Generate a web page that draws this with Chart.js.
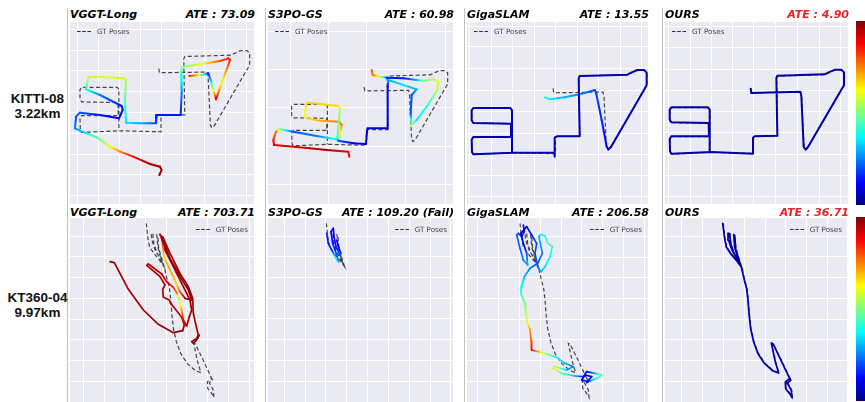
<!DOCTYPE html>
<html><head><meta charset="utf-8">
<script src="https://cdn.jsdelivr.net/npm/chart.js@4.4.1/dist/chart.umd.min.js"></script>
<style>
html,body{margin:0;padding:0;background:#fff}
#fig{position:relative;width:865px;height:402px;overflow:hidden;background:#fff}
.sep{position:absolute;top:8px;bottom:0;width:1px;background:#c2c2c2}
.ttl{position:absolute;height:13px;display:flex;justify-content:space-between;font:italic bold 11px "DejaVu Sans";line-height:13px;color:#000;white-space:nowrap}
.ttl .red{color:#e2262a}
canvas{position:absolute}
.leg{position:absolute;font:7.2px "DejaVu Sans";color:#444;line-height:9px;white-space:nowrap;display:flex;align-items:center}
.leg svg{margin-right:6px}
.rowlab{position:absolute;left:0;width:75px;text-align:center;font:bold 13.5px "Liberation Sans";line-height:15px;color:#111}
.cbar{position:absolute;left:856px;width:10px;height:184px;background:linear-gradient(to top,#000080 0%,#0000ff 12.5%,#00ffff 37.5%,#ffff00 62.5%,#ff0000 87.5%,#800000 100%)}
</style></head>
<body><div id="fig"></div>
<script>
// ---------------- DATA ----------------
const methods = ['VGGT-Long', 'S3PO-GS', 'GigaSLAM', 'OURS'];
const sequences = [['KITTI-08', '3.22km'], ['KT360-04', '9.97km']];
const ateKitti = ['73.09', '60.98', '13.55', '4.90'];
const ateKT360 = ['703.71', '109.20 (Fail)', '206.58', '36.71'];
const legendLabel = 'GT Poses';

// Ground truth, KITTI-08 (x, y)
const gtKitti = [[288,265],[290,278],[437,276],[440,290],[447,440],[452,448],[460,440],[560,268],[568,255],[568,218],[560,210],[540,210],[522,218],[510,224],[368,228],[365,235],[368,408],[300,408],[295,412],[295,460],[170,457],[50,462],[46,455],[45,418],[50,410],[163,410],[162,370],[50,368],[45,360],[45,330],[50,323],[160,323],[165,330],[165,457]];

// Estimated trajectories, KITTI-08 (x, y, normalised error)
const vggtKitti = [[568,228,.85],[590,226,.7],[610,224,.4],[625,220,.15],[632,240,.3],[640,270,.6],[648,298,.9],[665,250,.6],[690,180,.85],[685,175,.85],[660,183,.8],[600,193,.6],[548,200,.5],[543,215,.45],[545,280,.25],[542,345,.15],[470,345,.15],[468,370,.2],[420,370,.3],[378,368,.35],[375,300,.45],[378,240,.55],[372,235,.6],[300,230,.6],[265,232,.58],[258,268,.4],[300,285,.25],[365,318,.15],[368,330,.15],[357,355,.1],[300,345,.15],[240,338,.2],[228,350,.2],[225,385,.25],[240,392,.3],[290,412,.45],[330,440,.62],[360,455,.75],[400,470,.88],[450,492,.95],[480,500,.97],[485,510,.97],[478,525,.97]];
const s3poKitti = [[335,210,.8],[338,225,.75],[360,230,.6],[382,233,.15],[430,235,.15],[470,240,.3],[490,242,.5],[520,238,.55],[535,245,.6],[532,270,.55],[500,320,.4],[470,360,.35],[455,375,.55],[452,340,.2],[455,285,.2],[470,268,.3],[430,255,.35],[385,240,.3],[383,260,.1],[383,385,.08],[322,385,.08],[318,432,.08],[280,430,.12],[235,422,.2],[230,415,.35],[240,410,.55],[245,375,.75],[238,365,.75],[180,362,.7],[140,355,.65],[135,345,.6],[138,312,.65],[145,308,.68],[235,318,.65],[240,325,.55],[237,360,.5],[232,412,.45],[228,418,.4],[170,408,.25],[100,395,.2],[60,388,.5],[48,395,.75],[40,420,.85],[42,435,.9],[150,445,.92],[200,450,.97],[265,455,.88],[268,470,.88]];
const gigaKitti = [[270,292,.38],[285,298,.36],[330,292,.3],[380,281,.25],[420,270,.2],[424,282,.18],[440,360,.16],[455,440,.12],[460,448,.08],[468,441,.05],[567,270,.05],[575,255,.05],[575,218,.05],[567,210,.05],[547,210,.05],[529,218,.05],[517,224,.05],[374,228,.05],[371,235,.05],[374,409,.05],[306,409,.05],[299,413,.05],[299,458,.05],[175,458,.05],[55,463,.05],[51,456,.05],[50,419,.05],[55,411,.05],[168,411,.05],[168,371,.05],[55,369,.05],[50,361,.05],[50,331,.05],[55,324,.05],[166,324,.05],[171,331,.05],[171,458,.05],[298,458,.05],[299,470,.05]];
const oursKitti = [[287,266,.04],[289,279,.04],[436,275,.04],[439,288,.04],[446,441,.04],[452,449,.04],[459,441,.04],[559,269,.04],[567,256,.04],[567,217,.04],[559,209,.04],[540,209,.04],[521,217,.04],[509,223,.04],[367,227,.04],[364,234,.04],[367,407,.04],[299,409,.04],[294,413,.04],[294,461,.04],[169,456,.04],[49,461,.04],[45,454,.04],[44,417,.04],[49,409,.04],[162,409,.04],[161,369,.04],[49,367,.04],[44,359,.04],[44,329,.04],[49,322,.04],[159,322,.04],[164,329,.04],[164,456,.04]];

// Ground truth, KT360-04 (x, y)
const gtKT360 = [[205,70],[207,90],[210,115],[215,140],[228,160],[245,180],[258,198],[250,180],[232,150],[222,120],[220,100],[225,102],[228,130],[238,160],[255,192],[248,170],[240,140],[237,105],[240,108],[243,145],[255,185],[260,200],[268,235],[276,265],[280,300],[283,340],[288,385],[297,425],[310,460],[330,490],[355,512],[372,518],[362,485],[350,430],[355,432],[378,478],[398,520],[405,535],[392,545],[393,565],[405,580],[412,592],[410,570],[398,548],[408,540],[403,530]];
const s3poProcessedFrames = 22; // S3PO-GS failed: only the first GT poses are plotted

// Estimated trajectories, KT360-04 (x, y, normalised error)
const vggtKT360 = [[330,185,.97],[343,188,.97],[352,205,.97],[385,268,.97],[430,330,.97],[475,373,.97],[520,398,.97],[548,392,.97],[553,375,.95],[545,352,.93],[512,310,.95],[508,300,.95],[490,292,.95],[488,268,.95],[495,255,.95],[480,230,.95],[440,196,.95],[445,192,.95],[485,222,.93],[500,245,.9],[520,262,.85],[530,278,.78],[535,292,.55],[540,310,.6],[545,330,.72],[550,360,.88],[560,378,.95],[568,350,.97],[575,330,.97],[570,300,.97],[545,250,.97],[520,200,.97],[495,150,.97],[483,108,.97],[480,103,.95],[487,120,.88],[490,150,.75],[492,170,.66],[505,200,.72],[520,230,.7],[530,255,.66],[540,275,.8],[555,295,.95],[575,300,.97],[565,270,.97],[540,230,.97],[510,175,.97],[485,115,.97],[488,110,.97],[510,160,.97],[540,220,.97],[565,260,.97],[578,295,.97],[580,340,.97],[590,385,.97],[595,405,.97],[590,415,.97],[575,425,.97],[580,430,.97],[590,420,.97],[598,405,.97]];
const s3poKT360 = [[200,100,.15],[205,130,.15],[215,150,.18],[228,175,.38],[236,185,.3],[230,165,.2],[218,130,.14],[213,95,.12],[220,85,.1],[222,110,.12],[228,140,.15],[240,165,.2],[242,158,.18],[235,140,.12],[230,120,.1]];
const gigaKT360 = [[205,75,.12],[208,95,.15],[200,110,.15],[190,100,.2],[185,105,.22],[195,145,.22],[205,180,.25],[218,195,.3],[215,160,.2],[205,130,.1],[198,100,.08],[215,80,.12],[230,105,.15],[245,130,.2],[240,160,.2],[248,200,.22],[258,215,.3],[270,200,.35],[285,170,.38],[292,140,.42],[278,130,.45],[270,108,.4],[258,103,.38],[252,110,.3],[262,160,.25],[248,190,.2],[225,205,.25],[208,230,.3],[200,260,.38],[198,280,.42],[210,310,.5],[212,340,.55],[218,370,.62],[225,390,.72],[228,420,.78],[230,450,.88],[250,455,.7],[275,462,.5],[305,472,.38],[330,490,.3],[355,500,.25],[335,510,.3],[300,500,.6],[295,505,.65],[320,520,.45],[360,528,.3],[385,530,.15],[395,515,.1],[420,520,.3],[440,525,.5],[425,535,.4],[400,545,.2],[380,540,.1],[390,525,.08],[410,530,.15],[395,548,.12]];
const oursKT360 = [[203,70,.04],[206,92,.04],[209,116,.04],[214,141,.04],[227,161,.04],[244,181,.04],[257,199,.04],[249,181,.04],[231,151,.04],[221,121,.04],[219,99,.04],[224,101,.04],[227,131,.04],[237,161,.04],[254,193,.04],[247,171,.04],[239,141,.04],[236,104,.04],[239,107,.04],[242,146,.04],[254,186,.04],[259,201,.04],[267,236,.04],[275,266,.04],[279,301,.04],[282,341,.04],[287,386,.04],[296,426,.04],[309,461,.04],[329,491,.04],[354,513,.04],[371,519,.04],[361,486,.04],[349,429,.04],[354,431,.04],[377,479,.04],[397,521,.04],[404,536,.04],[391,546,.04],[392,566,.04],[404,581,.04],[411,593,.04],[409,571,.04],[397,549,.04],[407,541,.04],[402,531,.04]];

// Grid line positions (no tick labels shown)
const gridKittiX = [[232,296,358,420,484,548,612,676,740],[90,205,320,437,555],[44,108,172,237,302,366,430,495,558],[40,105,168,233,296,362,428,492,556]];
const gridKittiY = [[88,150,212,275,338,400,462,523,585],[93,208,322,438,553],[78,140,205,270,335,400,462,527,590],[80,143,207,270,335,398,462,527,590]];
const gridKT360X = [[250,313,375,437,500,560,622,685,748],[72,135,197,260,322,385,447,510,572],[68,130,193,255,318,380,443,505,568],[80,142,205,268,330,392,455,517,578]];
const gridKT360Y = [[108,170,233,295,357,420,482,543],[108,170,232,295,355,418,480,543],[110,172,233,295,357,420,482,543],[108,170,233,295,357,420,482,543]];

// Axis limits
const limKittiX = [[210,762],[24,579],[36,579],[30,579]];
const limKittiY = [66,612];
const limKT360X = [[210,762],[24,579],[36,579],[30,579]];
const limKT360Y = [54,606];
const gtLimKittiX = [[14.2,581.5],[-34.3,585.8],[31.0,571.3],[30,579]];
const gtLimKittiY = [[121.6,682.7],[46.9,657],[66.7,610],[66,612]];
const gtLimKT360X = [[-28.6,534.7],[30,585],[46,589],[30,579]];
const gtLimKT360Y = [[54,606],[54,606],[54,606],[54,606]];

// ---------------- LAYOUT ----------------
const colBox = [{left:70,width:184},{left:268,width:185},{left:467,width:181},{left:665,width:183}];
const rowBox = [{top:22,height:182,titleTop:8.1,legTop:27.3,lab:90.8},{top:218,height:184,titleTop:206.3,legTop:225.3,lab:289.5}];
const sepX = [67,265,464,662];

const fig = document.getElementById('fig');
function el(tag, cls, style, html){const e=document.createElement(tag); if(cls)e.className=cls; if(style)Object.assign(e.style,style); if(html!==undefined)e.innerHTML=html; fig.appendChild(e); return e;}

sepX.forEach(x=>el('div','sep',{left:x+'px'}));
sequences.forEach((s,r)=>el('div','rowlab',{top:rowBox[r].lab+'px'},s[0]+'<br>'+s[1]));
rowBox.forEach(rb=>el('div','cbar',{top:(rb.top-1)+'px'}));

function jet(v){v=Math.max(0,Math.min(1,v));const f=t=>Math.round(255*Math.max(0,Math.min(1,t)));return `rgb(${f(1.5-Math.abs(4*v-3))},${f(1.5-Math.abs(4*v-2))},${f(1.5-Math.abs(4*v-1))})`;}
function segColor(ctx, est){
  const c0=est[ctx.p0DataIndex][2], c1=est[ctx.p1DataIndex][2];
  if(Math.abs(c0-c1)<0.01) return jet(c0);
  const a=ctx.p0, b=ctx.p1;
  if(Math.abs(a.x-b.x)+Math.abs(a.y-b.y)<0.5) return jet((c0+c1)/2);
  const g=ctx.chart.ctx.createLinearGradient(a.x,a.y,b.x,b.y);
  for(let i=0;i<=6;i++){const t=i/6;g.addColorStop(t,jet(c0+(c1-c0)*t));}
  return g;
}
const bgPlugin={id:'bg',beforeDraw(chart){const {ctx,chartArea:a}=chart;ctx.save();ctx.fillStyle='#eaeaf2';ctx.fillRect(a.left,a.top,a.width,a.height);ctx.restore();}};

function legendSvg(){return '<svg width="14" height="3"><line x1="0" y1="1.5" x2="14" y2="1.5" stroke="#333" stroke-width="1.2" stroke-dasharray="3.6,1.6"/></svg>';}

function panel(r, c, est, gt, limX, limY, gtX, gtY, gx, gy, lw, ate){
  const cb=colBox[c], rb=rowBox[r];
  const t=el('div','ttl',{left:cb.left+'px',top:rb.titleTop+'px',width:(cb.width+1)+'px'});
  t.innerHTML='<span>'+methods[c]+'</span><span class="'+(c===3?'red':'')+'">ATE : '+ate+'</span>';
  const cv=el('canvas',null,{left:cb.left+'px',top:rb.top+'px'});
  cv.width=cb.width; cv.height=rb.height;
  new Chart(cv,{
    type:'scatter',
    data:{datasets:[
      {label:methods[c],data:est.map(d=>({x:d[0],y:d[1]})),xAxisID:'x',yAxisID:'y',showLine:true,pointRadius:0,borderWidth:lw,borderCapStyle:'round',borderJoinStyle:'round',tension:0,
       segment:{borderColor:ctx=>segColor(ctx,est)}},
      {label:legendLabel,data:gt.map(d=>({x:d[0],y:d[1]})),xAxisID:'xg',yAxisID:'yg',showLine:true,pointRadius:0,borderWidth:1.2,borderColor:'rgba(40,40,40,0.85)',borderDash:[4,2.5],tension:0}
    ]},
    options:{responsive:false,animation:false,devicePixelRatio:1,events:[],layout:{padding:0},
      plugins:{legend:{display:false},tooltip:{enabled:false}},
      scales:{
        x:{type:'linear',min:limX[0],max:limX[1],ticks:{display:false},grid:{color:'#ffffff',lineWidth:1,drawTicks:false},border:{display:false},afterBuildTicks:ax=>{ax.ticks=gx.map(v=>({value:v}));}},
        y:{type:'linear',reverse:true,min:limY[0],max:limY[1],ticks:{display:false},grid:{color:'#ffffff',lineWidth:1,drawTicks:false},border:{display:false},afterBuildTicks:ax=>{ax.ticks=gy.map(v=>({value:v}));}},
        xg:{type:'linear',axis:'x',position:'bottom',display:false,min:gtX[0],max:gtX[1]},
        yg:{type:'linear',axis:'y',position:'left',reverse:true,display:false,min:gtY[0],max:gtY[1]}
      }},
    plugins:[bgPlugin]
  });
  const lg=el('div','leg',{top:rb.legTop+'px'},legendSvg()+'<span>'+legendLabel+'</span>');
  if(r===0) lg.style.left=(cb.left+7)+'px';
  else lg.style.right=(865-(cb.left+cb.width)+6)+'px';
}

const estKitti=[vggtKitti,s3poKitti,gigaKitti,oursKitti];
const estKT360=[vggtKT360,s3poKT360,gigaKT360,oursKT360];
for(let c=0;c<4;c++){
  panel(0,c,estKitti[c],gtKitti,limKittiX[c],limKittiY,gtLimKittiX[c],gtLimKittiY[c],gridKittiX[c],gridKittiY[c],2,ateKitti[c]);
  const gt2 = c===1 ? gtKT360.slice(0,s3poProcessedFrames) : gtKT360;
  panel(1,c,estKT360[c],gt2,limKT360X[c],limKT360Y,gtLimKT360X[c],gtLimKT360Y[c],gridKT360X[c],gridKT360Y[c],1.7,ateKT360[c]);
}
</script>
</body></html>
